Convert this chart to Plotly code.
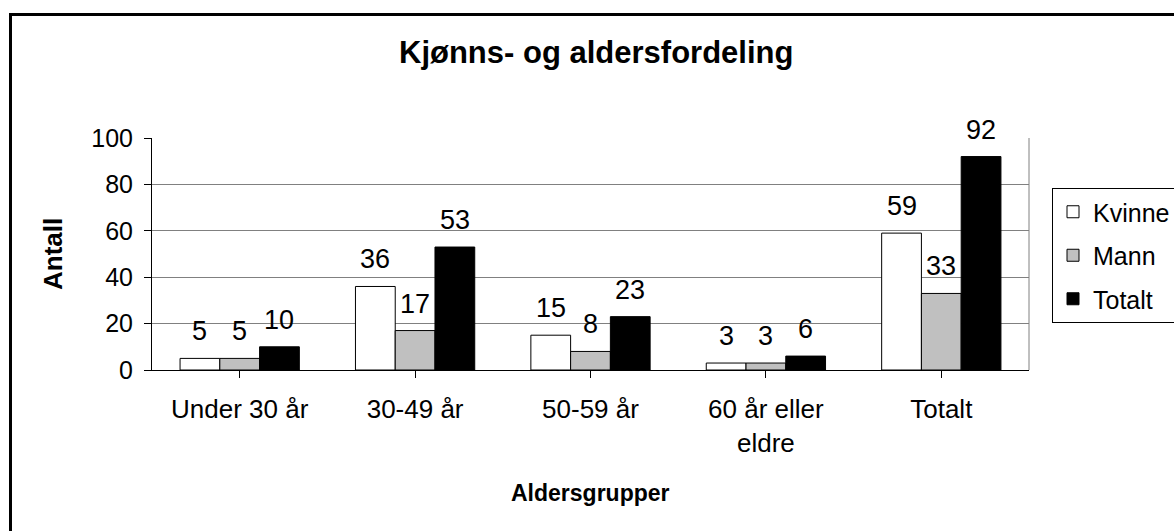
import plotly.graph_objects as go

categories = ["Under 30 år", "30-49 år", "50-59 år", "60 år eller<br>eldre", "Totalt"]
kvinne = [5, 36, 15, 3, 59]
mann = [5, 17, 8, 3, 33]
totalt = [10, 53, 23, 6, 92]
series_names = ["Kvinne", "Mann", "Totalt"]
series_colors = ["#FFFFFF", "#C0C0C0", "#000000"]
y_ticks = [0, 20, 40, 60, 80, 100]

W, H = 1174, 531
L, R, T, B = 152, 1029, 138, 370
FONT = "Liberation Sans, Arial, sans-serif"
bargap = 0.32


def px_x(p):
    return (p - L) / (R - L)


def px_y(p):
    return (B - p) / (B - T)


fig = go.Figure()
all_series = [kvinne, mann, totalt]
for k, (name, vals, col) in enumerate(zip(series_names, all_series, series_colors)):
    fig.add_trace(go.Bar(
        x=list(range(len(categories))), y=vals, name=name,
        marker=dict(color=col, line=dict(color="#000000", width=1)),
        legendgroup=name,
    ))

annotations = []
w = (1 - bargap) / 3
for k, vals in enumerate(all_series):
    for i, v in enumerate(vals):
        annotations.append(dict(
            x=i + (k - 1) * w, y=v, xref="x", yref="y", text=str(v),
            showarrow=False, yanchor="bottom", yshift=10,
            font=dict(family=FONT, size=27, color="#000000"),
        ))

annotations.append(dict(
    x=0.5, y=px_y(53), xref="paper", yref="paper",
    text="<b>Kjønns- og aldersfordeling</b>", showarrow=False, xshift=5,
    yanchor="middle", font=dict(family=FONT, size=31, color="#000000"),
))
annotations.append(dict(
    x=px_x(53), y=0.5, xref="paper", yref="paper",
    text="<b>Antall</b>", showarrow=False, textangle=-90,
    xanchor="center", yanchor="middle",
    font=dict(family=FONT, size=26, color="#000000"),
))
annotations.append(dict(
    x=0.5, y=px_y(493), xref="paper", yref="paper",
    text="<b>Aldersgrupper</b>", showarrow=False,
    yanchor="middle", font=dict(family=FONT, size=23, color="#000000"),
))

shapes = [
    dict(type="rect", xref="paper", yref="paper",
         x0=px_x(10.5), y0=-2, x1=3, y1=px_y(14.5),
         line=dict(color="#000000", width=3), layer="above"),
    dict(type="line", xref="paper", yref="paper",
         x0=1, x1=1, y0=0, y1=1, line=dict(color="#808080", width=1)),
]

fig.update_layout(
    width=W, height=H,
    margin=dict(l=L, r=W - R, t=T, b=H - B, autoexpand=False),
    paper_bgcolor="#FFFFFF", plot_bgcolor="#FFFFFF",
    barmode="group", bargap=bargap, bargroupgap=0,
    font=dict(family=FONT, size=25, color="#000000"),
    showlegend=True,
    legend=dict(
        x=px_x(1052), y=px_y(188), xanchor="left", yanchor="top",
        bordercolor="#000000", borderwidth=1, bgcolor="#FFFFFF",
        font=dict(family=FONT, size=25, color="#000000"),
        traceorder="grouped", tracegroupgap=8,
        entrywidth=100, entrywidthmode="pixels",
    ),
    xaxis=dict(
        tickmode="array", tickvals=list(range(len(categories))), ticktext=categories,
        range=[-0.5, len(categories) - 0.5],
        showline=True, linecolor="#000000", linewidth=1,
        ticks="outside", ticklen=7, tickcolor="#000000", tickson="boundaries",
        showgrid=False, zeroline=False,
        tickfont=dict(family=FONT, size=26, color="#000000"),
        ticklabelstandoff=9,
    ),
    yaxis=dict(
        range=[0, 100], tickmode="array", tickvals=y_ticks,
        showline=True, linecolor="#000000", linewidth=1,
        ticks="outside", ticklen=7, tickcolor="#000000",
        showgrid=True, gridcolor="#808080", gridwidth=1, zeroline=False,
        tickfont=dict(family=FONT, size=25, color="#000000"),
        ticklabelstandoff=6,
    ),
    annotations=annotations,
    shapes=shapes,
)

fig.write_html(
    "out.html",
    config={"displayModeBar": False},
    post_script="document.body.style.margin='0';document.body.style.overflow='hidden';",
)
